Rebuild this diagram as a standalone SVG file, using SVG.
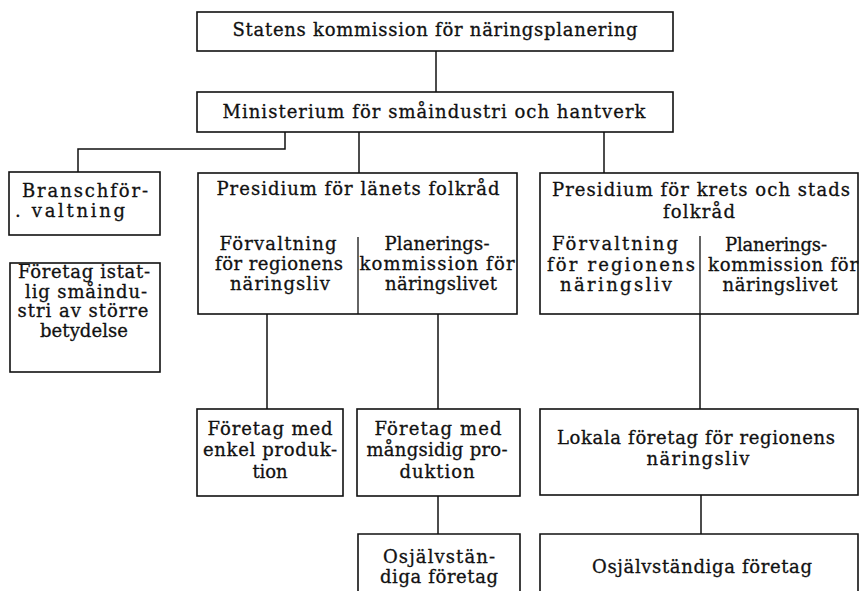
<svg xmlns="http://www.w3.org/2000/svg" width="861" height="591" viewBox="0 0 861 591">
<style>
.box{fill:none;stroke:#111;stroke-width:1.6}
.div{stroke:#111;stroke-width:1.3}
.con{stroke:#111;stroke-width:1.5;fill:none}
text{font-family:"DejaVu Serif","Liberation Serif",serif;font-size:18px;fill:#111;stroke:#111;stroke-width:0.3;text-anchor:middle}
</style>
<rect width="861" height="591" fill="#fff"/>
<g id="connectors">
<line class="con" x1="436" y1="51" x2="436" y2="92"/>
<polyline class="con" points="285,132 285,149 78,149 78,172"/>
<line class="con" x1="359" y1="132" x2="359" y2="173"/>
<line class="con" x1="604" y1="132" x2="604" y2="173"/>
<line class="con" x1="267" y1="314" x2="267" y2="409"/>
<line class="con" x1="438" y1="314" x2="438" y2="409"/>
<line class="con" x1="700" y1="314" x2="700" y2="409"/>
<line class="con" x1="438" y1="496" x2="438" y2="534"/>
<line class="con" x1="701" y1="495" x2="701" y2="534"/>
</g>
<g id="statens">
<rect class="box" x="197" y="12" width="476" height="39"/>
<text x="435" y="36" textLength="405" lengthAdjust="spacing">Statens kommission för näringsplanering</text>
</g>
<g id="ministerium">
<rect class="box" x="197" y="92" width="476" height="40"/>
<text x="434" y="118" textLength="423" lengthAdjust="spacing">Ministerium för småindustri och hantverk</text>
</g>
<g id="bransch">
<rect class="box" x="9" y="172" width="151" height="63"/>
<text x="85" y="197" textLength="126" lengthAdjust="spacing">Branschför-</text>
<text x="70" y="217" textLength="110" lengthAdjust="spacing">. valtning</text>
</g>
<g id="foretag-statlig">
<rect class="box" x="10" y="263" width="150" height="109"/>
<text x="84" y="278" textLength="132" lengthAdjust="spacing">Företag istat-</text>
<text x="86" y="298" textLength="122" lengthAdjust="spacing">lig småindu-</text>
<text x="83" y="317" textLength="131" lengthAdjust="spacing">stri av större</text>
<text x="84" y="337" textLength="88" lengthAdjust="spacing">betydelse</text>
</g>
<g id="presidium-lan">
<rect class="box" x="198" y="173" width="319" height="141"/>
<line class="div" x1="358" y1="237" x2="358" y2="314"/>
<text x="358" y="195" textLength="283" lengthAdjust="spacing">Presidium för länets folkråd</text>
<text x="278" y="250" textLength="117" lengthAdjust="spacing">Förvaltning</text>
<text x="279" y="270" textLength="128" lengthAdjust="spacing">för regionens</text>
<text x="280" y="290" textLength="100" lengthAdjust="spacing">näringsliv</text>
<text x="437" y="250" textLength="105" lengthAdjust="spacing">Planerings-</text>
<text x="437" y="270" textLength="155" lengthAdjust="spacing">kommission för</text>
<text x="441" y="290" textLength="112" lengthAdjust="spacing">näringslivet</text>
</g>
<g id="presidium-krets">
<rect class="box" x="540" y="173" width="318" height="141"/>
<line class="div" x1="700" y1="236" x2="700" y2="314"/>
<text x="701" y="196" textLength="298" lengthAdjust="spacing">Presidium för krets och stads</text>
<text x="699" y="218" textLength="72" lengthAdjust="spacing">folkråd</text>
<text x="615" y="250" textLength="126" lengthAdjust="spacing">Förvaltning</text>
<text x="621" y="271" textLength="148" lengthAdjust="spacing">för regionens</text>
<text x="616" y="291" textLength="112" lengthAdjust="spacing">näringsliv</text>
<text x="776" y="251" textLength="102" lengthAdjust="spacing">Planerings-</text>
<text x="783" y="271" textLength="150" lengthAdjust="spacing">kommission för</text>
<text x="780" y="291" textLength="115" lengthAdjust="spacing">näringslivet</text>
</g>
<g id="enkel">
<rect class="box" x="197" y="409" width="146" height="87"/>
<text x="270" y="435" textLength="125" lengthAdjust="spacing">Företag med</text>
<text x="270" y="456" textLength="134" lengthAdjust="spacing">enkel produk-</text>
<text x="270" y="478" textLength="35" lengthAdjust="spacing">tion</text>
</g>
<g id="mangsidig">
<rect class="box" x="357" y="409" width="163" height="87"/>
<text x="438" y="435" textLength="127" lengthAdjust="spacing">Företag med</text>
<text x="437" y="456" textLength="141" lengthAdjust="spacing">mångsidig pro-</text>
<text x="437" y="478" textLength="75" lengthAdjust="spacing">duktion</text>
</g>
<g id="lokala">
<rect class="box" x="540" y="409" width="318" height="86"/>
<text x="696" y="444" textLength="278" lengthAdjust="spacing">Lokala företag för regionens</text>
<text x="698" y="465" textLength="103" lengthAdjust="spacing">näringsliv</text>
</g>
<g id="osjalvst-1">
<polyline class="box" points="358,600 358,534 520,534 520,600"/>
<text x="439" y="563" textLength="112" lengthAdjust="spacing">Osjälvstän-</text>
<text x="439" y="583" textLength="118" lengthAdjust="spacing">diga företag</text>
</g>
<g id="osjalvst-2">
<polyline class="box" points="540,600 540,534 858,534 858,600"/>
<text x="702" y="573" textLength="220" lengthAdjust="spacing">Osjälvständiga företag</text>
</g>
</svg>
